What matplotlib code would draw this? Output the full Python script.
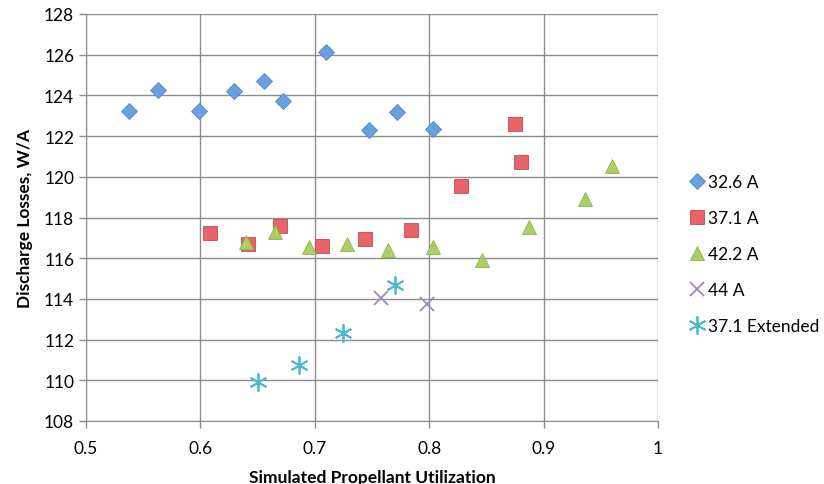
import matplotlib.pyplot as plt

plt.rcParams['font.family'] = ['Lato', 'DejaVu Sans']

# 32.6 A
x_326 = [0.538, 0.563, 0.599, 0.629, 0.656, 0.672, 0.710, 0.747, 0.772, 0.803]
y_326 = [123.24, 124.27, 123.24, 124.20, 124.71, 123.74, 126.14, 122.29, 123.18, 122.36]

# 37.1 A
x_371 = [0.608, 0.642, 0.670, 0.706, 0.744, 0.784, 0.828, 0.875, 0.880]
y_371 = [117.25, 116.68, 117.58, 116.61, 116.96, 117.37, 119.55, 122.59, 120.73]

# 42.2 A
x_422 = [0.640, 0.665, 0.695, 0.728, 0.764, 0.803, 0.846, 0.887, 0.936, 0.960]
y_422 = [116.80, 117.30, 116.55, 116.72, 116.42, 116.55, 115.92, 117.55, 118.90, 120.55]

# 44 A
x_44 = [0.758, 0.798]
y_44 = [114.06, 113.74]

# 37.1 Extended
x_ext = [0.650, 0.686, 0.725, 0.770]
y_ext = [109.91, 110.76, 112.34, 114.66]

series = [
    ('32.6 A', x_326, y_326, dict(marker='D', markersize=8.5, color='#6a9fe0', mec='#4f86c8', mew=0.6)),
    ('37.1 A', x_371, y_371, dict(marker='s', markersize=10, color='#e8646a', mec='#c9474d', mew=0.6)),
    ('42.2 A', x_422, y_422, dict(marker='^', markersize=10.5, color='#a8d064', mec='#8cb548', mew=0.6)),
    ('44 A', x_44, y_44, dict(marker='x', markersize=10, color='#9f86c0', mew=1.3)),
    ('37.1 Extended', x_ext, y_ext, dict(marker=(6, 2, 0), markersize=13, color='#4bb8cf', mew=1.3)),
]

fig = plt.figure(figsize=(8.24, 4.85), dpi=100)
ax = fig.add_axes([86 / 824, 1 - 422 / 485, (658 - 86) / 824, (422 - 15) / 485])

for name, xs, ys, style in series:
    ax.plot(xs, ys, linestyle='none', label=name, zorder=3, **style)

ax.set_xlim(0.5, 1.0)
ax.set_ylim(108, 128)
ax.set_xticks([0.5, 0.6, 0.7, 0.8, 0.9, 1.0])
ax.set_xticklabels(['0.5', '0.6', '0.7', '0.8', '0.9', '1'])
ax.set_yticks(range(108, 129, 2))
ax.grid(True, color='#8c8c8c', linewidth=1.0)
ax.set_axisbelow(True)
for side in ['top', 'right']:
    ax.spines[side].set_visible(False)
for side in ['left', 'bottom']:
    ax.spines[side].set_color('#8c8c8c')
ax.tick_params(colors='#8c8c8c', labelcolor='black', labelsize=12.5, length=5, width=1)
ax.tick_params(axis='x', pad=9)

ax.set_xlabel('Simulated Propellant Utilization', fontsize=12.5, fontweight='bold', labelpad=9)
ax.set_ylabel('Discharge Losses, W/A', fontsize=12.5, fontweight='bold', labelpad=8)

ax.legend(loc='upper left', bbox_to_anchor=(680 / 824, 1 - 168 / 485), bbox_transform=fig.transFigure,
          frameon=False, fontsize=12.5, handletextpad=0.0, labelspacing=1.15, handlelength=1.2,
          borderaxespad=0)

fig.savefig('out.png', dpi=100)
